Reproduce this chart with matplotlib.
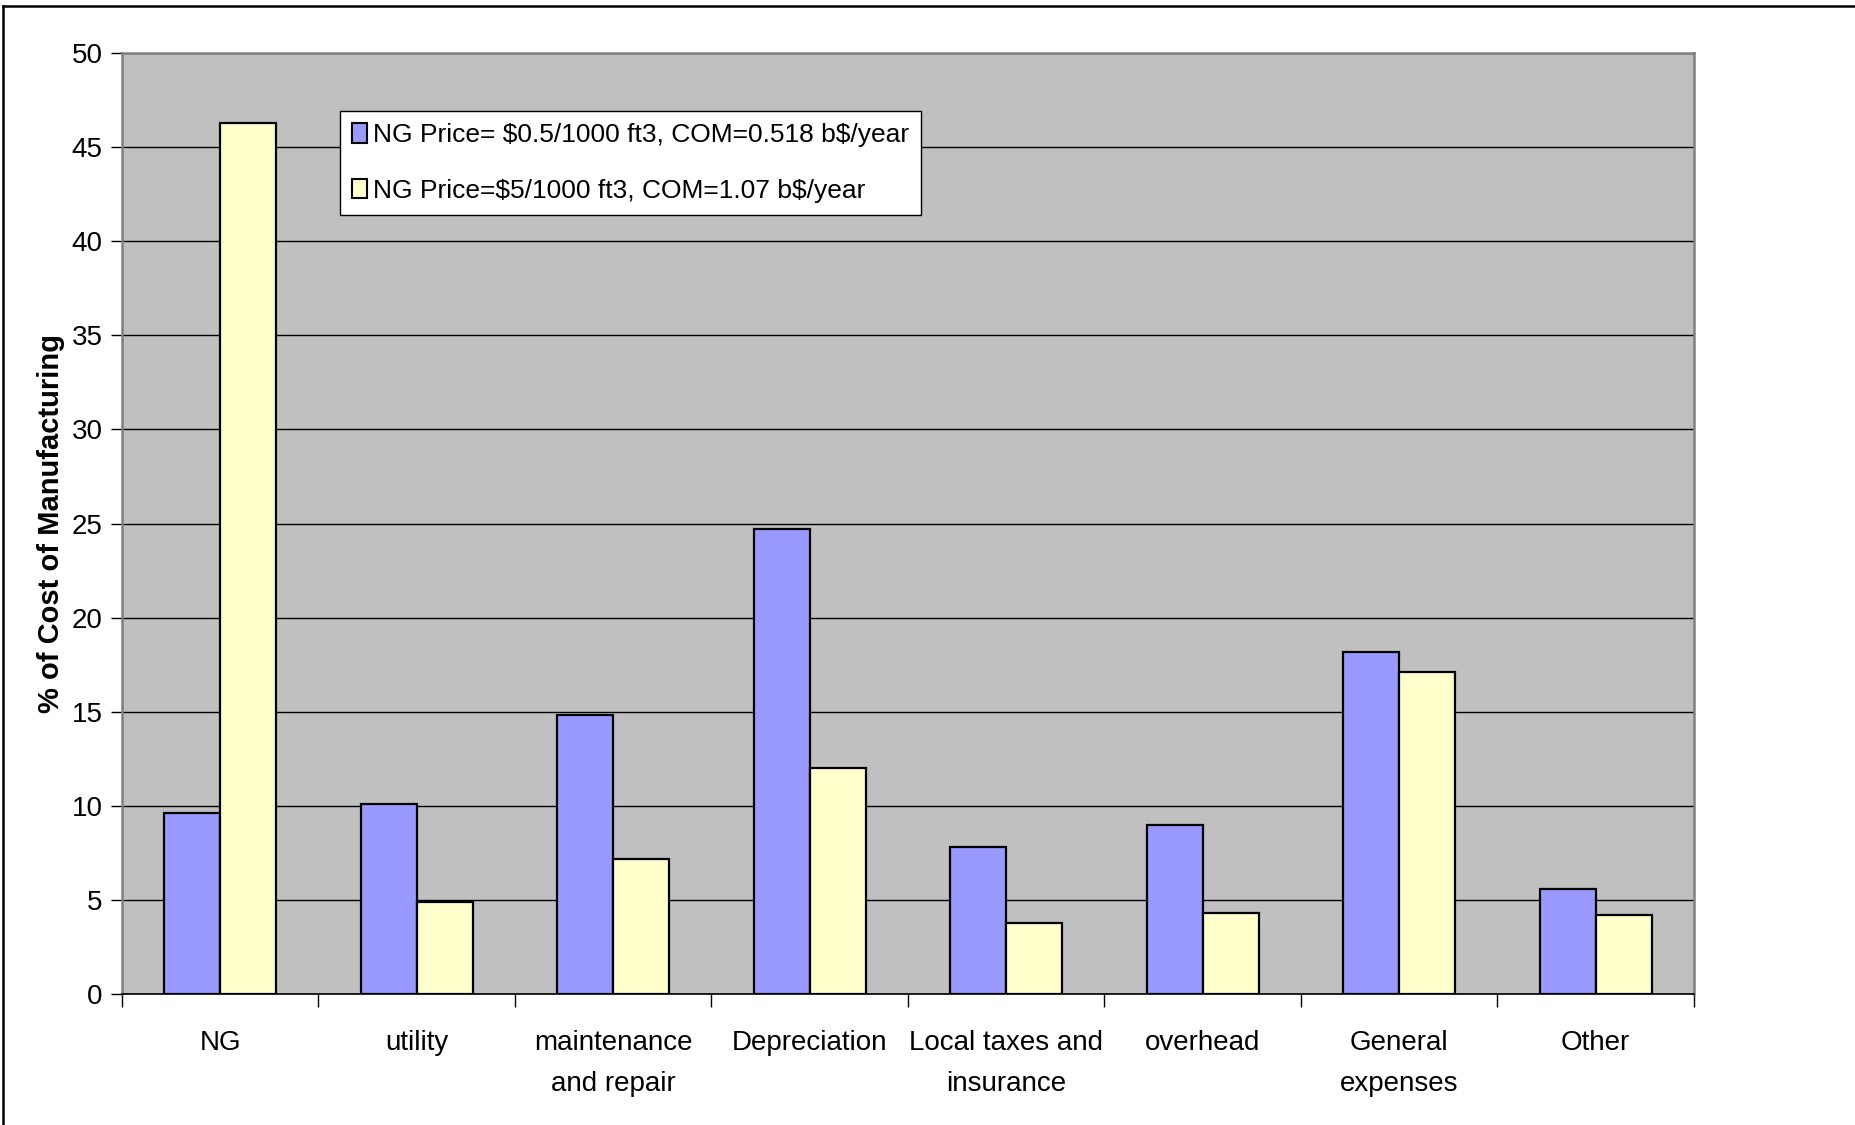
import matplotlib
matplotlib.use("Agg")
import matplotlib.pyplot as plt
import numpy as np
from matplotlib.patches import Patch
from matplotlib.lines import Line2D

# Cost-of-manufacturing breakdown for two natural-gas price scenarios
categories = ["NG", "utility", "maintenance\nand repair", "Depreciation",
              "Local taxes and\ninsurance", "overhead", "General\nexpenses", "Other"]
low_price = [9.6, 10.1, 14.8, 24.7, 7.8, 9.0, 18.2, 5.6]
high_price = [46.3, 4.9, 7.2, 12.0, 3.8, 4.3, 17.1, 4.2]
series_names = [r"NG Price= \$0.5/1000 ft3, COM=0.518 b\$/year",
                r"NG Price=\$5/1000 ft3, COM=1.07 b\$/year"]
y_ticks = [0, 5, 10, 15, 20, 25, 30, 35, 40, 45, 50]

plt.rcParams["font.family"] = ["Liberation Sans", "DejaVu Sans"]

fig = plt.figure(figsize=(18.56, 11.25), dpi=100)
ax = fig.add_axes([0.0657, 0.1164, 0.8470, 0.8365])

x = np.arange(len(categories))
w = 1 / 3.5
ax.set_facecolor("#C0C0C0")
ax.bar(x - w / 2, low_price, width=w, color="#9999FF", edgecolor="black",
       linewidth=1.6, zorder=3, label=series_names[0])
ax.bar(x + w / 2, high_price, width=w, color="#FFFFCC", edgecolor="black",
       linewidth=1.6, zorder=3, label=series_names[1])

ax.set_xlim(-0.5, len(categories) - 0.5)
ax.set_ylim(0, 50)
ax.set_yticks(y_ticks)
ax.set_yticklabels([str(v) for v in y_ticks])
ax.yaxis.grid(True, color="black", linewidth=1.0, zorder=1)
ax.set_axisbelow(True)

# category labels centred, tick marks on the category boundaries
ax.set_xticks(x)
ax.set_xticklabels(categories, linespacing=1.75)
ax.set_xticks(np.arange(len(categories) + 1) - 0.5, minor=True)
ax.tick_params(axis="x", which="major", length=0, pad=26, labelsize=20)
ax.tick_params(axis="x", which="minor", length=9, width=1.0, direction="out")
ax.tick_params(axis="y", length=8, width=1.0, direction="out", pad=6, labelsize=20)

for side in ("left", "right", "top"):
    ax.spines[side].set_color("#808080")
    ax.spines[side].set_linewidth(1.8)
ax.spines["bottom"].set_color("black")
ax.spines["bottom"].set_linewidth(1.2)

ax.set_ylabel("% of Cost of Manufacturing", fontsize=21, fontweight="bold")
ax.yaxis.set_label_coords(-0.036, 0.5)

handles = [Patch(facecolor="#9999FF", edgecolor="black", linewidth=1.5),
           Patch(facecolor="#FFFFCC", edgecolor="black", linewidth=1.5)]
leg = ax.legend(handles, series_names, loc="upper left",
                bbox_to_anchor=(0.139, 0.938), fontsize=19, frameon=True,
                fancybox=False, framealpha=1, edgecolor="black",
                handlelength=0.55, handleheight=0.75, handletextpad=0.25,
                borderpad=0.45, labelspacing=1.2, borderaxespad=0)
leg.get_frame().set_linewidth(1.0)

# outer chart frame (top and left edges)
fig.add_artist(Line2D([0.0016, 1.0], [0.9947, 0.9947], color="black",
                      linewidth=1.8, transform=fig.transFigure))
fig.add_artist(Line2D([0.0016, 0.0016], [0.0, 0.9947], color="black",
                      linewidth=1.8, transform=fig.transFigure))

fig.savefig("out.png", dpi=100)
